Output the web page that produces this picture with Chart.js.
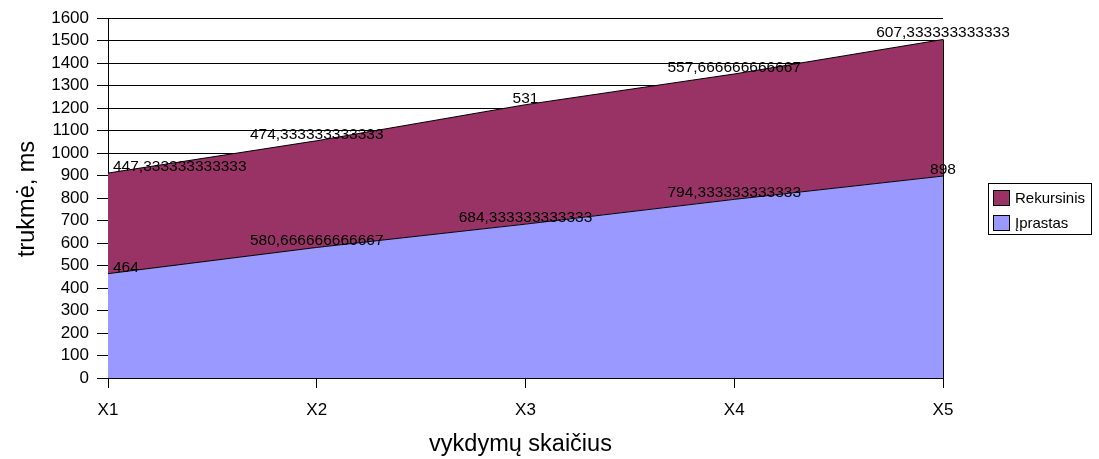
<!DOCTYPE html>
<html>
<head>
<meta charset="utf-8">
<script src="https://cdn.jsdelivr.net/npm/chart.js@4.4.1/dist/chart.umd.min.js"></script>
<style>
  html, body { margin: 0; padding: 0; background: #fff; }
  #wrap { width: 1099px; height: 459px; }
</style>
</head>
<body>
<div id="wrap"><canvas id="c" width="1099" height="459"></canvas></div>
<script>
// Categories and series (ms)
const categories = ['X1', 'X2', 'X3', 'X4', 'X5'];
const iprastas = [464, 580.666666666667, 684.333333333333, 794.333333333333, 898];
const rekursinis = [447.333333333333, 474.333333333333, 531, 557.666666666667, 607.333333333333];
const seriesNames = ['Įprastas', 'Rekursinis'];
const yTitle = 'trukmė, ms';
const xTitle = 'vykdymų skaičius';

const FONT = '"Liberation Sans", Arial, sans-serif';

// Value text with decimal comma, 15 significant digits
function fmt(v) {
  let s = v.toPrecision(15);
  if (s.indexOf('.') >= 0) s = s.replace(/0+$/, '').replace(/\.$/, '');
  return s.replace('.', ',');
}

// Labels above each stacked point
const valueLabels = {
  id: 'valueLabels',
  afterDatasetsDraw(chart) {
    const ctx = chart.ctx;
    ctx.save();
    ctx.font = '15.5px ' + FONT;
    ctx.fillStyle = '#000';
    ctx.textBaseline = 'alphabetic';
    chart.data.datasets.forEach((ds, di) => {
      const meta = chart.getDatasetMeta(di);
      meta.data.forEach((pt, i) => {
        const txt = fmt(ds.data[i]);
        if (i === 0) { ctx.textAlign = 'left'; ctx.fillText(txt, pt.x + 5, pt.y - 2); }
        else { ctx.textAlign = 'center'; ctx.fillText(txt, pt.x, pt.y - 2); }
      });
    });
    ctx.restore();
  }
};

// Closing edge of the stacked area at the last category
const rightEdge = {
  id: 'rightEdge',
  afterDatasetsDraw(chart) {
    const meta = chart.getDatasetMeta(chart.data.datasets.length - 1);
    const last = meta.data[meta.data.length - 1];
    const ctx = chart.ctx;
    const x = Math.round(last.x) + 0.5;
    ctx.save();
    ctx.strokeStyle = '#000';
    ctx.lineWidth = 1;
    ctx.beginPath();
    ctx.moveTo(x, last.y);
    ctx.lineTo(x, chart.scales.y.bottom);
    ctx.stroke();
    ctx.restore();
  }
};

// Axis titles
const axisTitles = {
  id: 'axisTitles',
  afterDraw(chart) {
    const ctx = chart.ctx;
    ctx.save();
    ctx.fillStyle = '#000';
    ctx.font = '23.5px ' + FONT;
    ctx.textAlign = 'center';
    ctx.textBaseline = 'alphabetic';
    ctx.fillText(xTitle, 520.5, 451);
    ctx.translate(34, 199);
    ctx.rotate(-Math.PI / 2);
    ctx.fillText(yTitle, 0, 0);
    ctx.restore();
  }
};

// Boxed legend, top series first
const boxLegend = {
  id: 'boxLegend',
  afterDraw(chart) {
    const ctx = chart.ctx;
    ctx.save();
    ctx.strokeStyle = '#000';
    ctx.lineWidth = 1;
    ctx.strokeRect(988.5, 183.5, 103, 51);
    ctx.font = '15px ' + FONT;
    ctx.textAlign = 'left';
    ctx.textBaseline = 'middle';
    const items = chart.data.datasets.slice().reverse();
    items.forEach((ds, k) => {
      const y = 190.5 + k * 25;
      ctx.fillStyle = ds.backgroundColor;
      ctx.fillRect(993.5, y, 16, 15);
      ctx.strokeRect(993.5, y, 16, 15);
      ctx.fillStyle = '#000';
      ctx.fillText(ds.label, 1015, y + 8);
    });
    ctx.restore();
  }
};

new Chart(document.getElementById('c'), {
  type: 'line',
  data: {
    labels: categories,
    datasets: [
      {
        label: seriesNames[0],
        data: iprastas,
        backgroundColor: '#9999FF',
        borderColor: '#000',
        borderWidth: 1,
        pointRadius: 0,
        fill: 'origin',
        tension: 0
      },
      {
        label: seriesNames[1],
        data: rekursinis,
        backgroundColor: '#993366',
        borderColor: '#000',
        borderWidth: 1,
        pointRadius: 0,
        fill: '-1',
        tension: 0
      }
    ]
  },
  options: {
    responsive: false,
    animation: false,
    layout: { padding: { left: 0, right: 156, top: 17, bottom: 0 } },
    plugins: { legend: { display: false }, tooltip: { enabled: false } },
    scales: {
      x: {
        offset: false,
        grid: { drawOnChartArea: false, drawTicks: true, tickLength: 10, color: '#000' },
        border: { display: true, color: '#000', width: 1 },
        ticks: { color: '#000', font: { family: FONT, size: 17 }, padding: 12, maxRotation: 0, autoSkip: false },
        afterFit(scale) { scale.height = 81; }
      },
      y: {
        stacked: true,
        min: 0,
        max: 1600,
        grid: { color: '#000', lineWidth: 1, drawTicks: true, tickLength: 11 },
        border: { display: true, color: '#000', width: 1 },
        ticks: {
          stepSize: 100,
          autoSkip: false,
          color: '#000',
          font: { family: FONT, size: 17 },
          padding: 8,
          callback: (v) => String(v)
        },
        afterFit(scale) { scale.width = 108; }
      }
    }
  },
  plugins: [valueLabels, rightEdge, axisTitles, boxLegend]
});
</script>
</body>
</html>
